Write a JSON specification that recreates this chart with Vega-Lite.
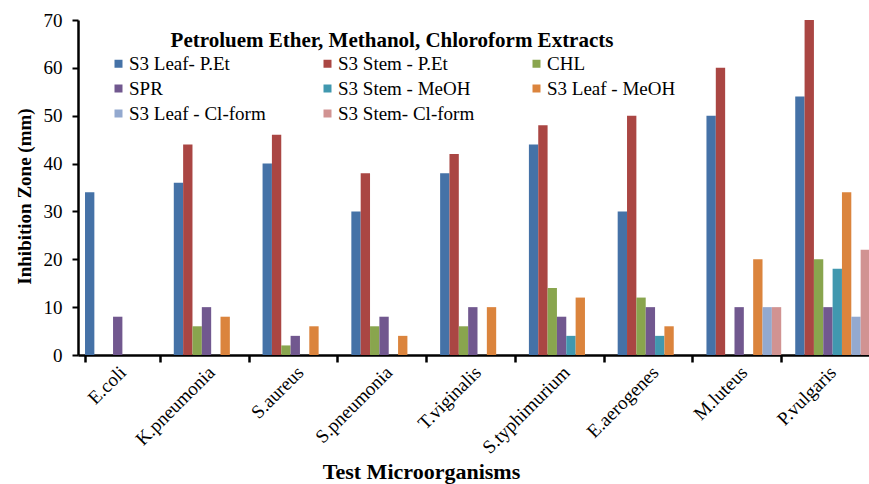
{
  "$schema": "https://vega.github.io/schema/vega-lite/v6.json",
  "width": 791,
  "height": 335,
  "autosize": {"type": "none"},
  "padding": {"left": 78, "top": 20, "right": 0, "bottom": 129},
  "background": "white",
  "config": {"view": {"stroke": null}, "font": "Liberation Serif"},
  "data": {
    "values": [
      {"organism": "E.coli", "extract": "S3 Leaf- P.Et", "zone": 34},
      {"organism": "E.coli", "extract": "SPR", "zone": 8},
      {"organism": "K.pneumonia", "extract": "S3 Leaf- P.Et", "zone": 36},
      {"organism": "K.pneumonia", "extract": "S3 Stem - P.Et", "zone": 44},
      {"organism": "K.pneumonia", "extract": "CHL", "zone": 6},
      {"organism": "K.pneumonia", "extract": "SPR", "zone": 10},
      {"organism": "K.pneumonia", "extract": "S3 Leaf - MeOH", "zone": 8},
      {"organism": "S.aureus", "extract": "S3 Leaf- P.Et", "zone": 40},
      {"organism": "S.aureus", "extract": "S3 Stem - P.Et", "zone": 46},
      {"organism": "S.aureus", "extract": "CHL", "zone": 2},
      {"organism": "S.aureus", "extract": "SPR", "zone": 4},
      {"organism": "S.aureus", "extract": "S3 Leaf - MeOH", "zone": 6},
      {"organism": "S.pneumonia", "extract": "S3 Leaf- P.Et", "zone": 30},
      {"organism": "S.pneumonia", "extract": "S3 Stem - P.Et", "zone": 38},
      {"organism": "S.pneumonia", "extract": "CHL", "zone": 6},
      {"organism": "S.pneumonia", "extract": "SPR", "zone": 8},
      {"organism": "S.pneumonia", "extract": "S3 Leaf - MeOH", "zone": 4},
      {"organism": "T.viginalis", "extract": "S3 Leaf- P.Et", "zone": 38},
      {"organism": "T.viginalis", "extract": "S3 Stem - P.Et", "zone": 42},
      {"organism": "T.viginalis", "extract": "CHL", "zone": 6},
      {"organism": "T.viginalis", "extract": "SPR", "zone": 10},
      {"organism": "T.viginalis", "extract": "S3 Leaf - MeOH", "zone": 10},
      {"organism": "S.typhimurium", "extract": "S3 Leaf- P.Et", "zone": 44},
      {"organism": "S.typhimurium", "extract": "S3 Stem - P.Et", "zone": 48},
      {"organism": "S.typhimurium", "extract": "CHL", "zone": 14},
      {"organism": "S.typhimurium", "extract": "SPR", "zone": 8},
      {"organism": "S.typhimurium", "extract": "S3 Stem - MeOH", "zone": 4},
      {"organism": "S.typhimurium", "extract": "S3 Leaf - MeOH", "zone": 12},
      {"organism": "E.aerogenes", "extract": "S3 Leaf- P.Et", "zone": 30},
      {"organism": "E.aerogenes", "extract": "S3 Stem - P.Et", "zone": 50},
      {"organism": "E.aerogenes", "extract": "CHL", "zone": 12},
      {"organism": "E.aerogenes", "extract": "SPR", "zone": 10},
      {"organism": "E.aerogenes", "extract": "S3 Stem - MeOH", "zone": 4},
      {"organism": "E.aerogenes", "extract": "S3 Leaf - MeOH", "zone": 6},
      {"organism": "M.luteus", "extract": "S3 Leaf- P.Et", "zone": 50},
      {"organism": "M.luteus", "extract": "S3 Stem - P.Et", "zone": 60},
      {"organism": "M.luteus", "extract": "SPR", "zone": 10},
      {"organism": "M.luteus", "extract": "S3 Leaf - MeOH", "zone": 20},
      {"organism": "M.luteus", "extract": "S3 Leaf - Cl-form", "zone": 10},
      {"organism": "M.luteus", "extract": "S3 Stem- Cl-form", "zone": 10},
      {"organism": "P.vulgaris", "extract": "S3 Leaf- P.Et", "zone": 54},
      {"organism": "P.vulgaris", "extract": "S3 Stem - P.Et", "zone": 70},
      {"organism": "P.vulgaris", "extract": "CHL", "zone": 20},
      {"organism": "P.vulgaris", "extract": "SPR", "zone": 10},
      {"organism": "P.vulgaris", "extract": "S3 Stem - MeOH", "zone": 18},
      {"organism": "P.vulgaris", "extract": "S3 Leaf - MeOH", "zone": 34},
      {"organism": "P.vulgaris", "extract": "S3 Leaf - Cl-form", "zone": 8},
      {"organism": "P.vulgaris", "extract": "S3 Stem- Cl-form", "zone": 22}
    ]
  },
  "mark": {"type": "bar"},
  "encoding": {
    "x": {
      "field": "organism",
      "type": "nominal",
      "sort": ["E.coli", "K.pneumonia", "S.aureus", "S.pneumonia", "T.viginalis", "S.typhimurium", "E.aerogenes", "M.luteus", "P.vulgaris"],
      "scale": {"range": [0, 799], "paddingInner": 0.158, "paddingOuter": 0.079},
      "title": "Test Microorganisms",
      "axis": {
        "labelAngle": -45,
        "labelAlign": "right",
        "labelBaseline": "middle",
        "labelFontSize": 19,
        "labelColor": "black",
        "labelPadding": 7,
        "domainColor": "black",
        "domainWidth": 2.5,
        "tickColor": "black",
        "tickWidth": 2.5,
        "tickSize": 7,
        "tickBand": "extent",
        "titleFontSize": 22,
        "titleFontWeight": "bold",
        "titleColor": "black",
        "titleX": 343,
        "titleY": 106,
        "titleAlign": "center",
        "titleBaseline": "top"
      }
    },
    "xOffset": {
      "field": "extract",
      "type": "nominal",
      "scale": {
        "domain": ["S3 Leaf- P.Et", "S3 Stem - P.Et", "CHL", "SPR", "S3 Stem - MeOH", "S3 Leaf - MeOH", "S3 Leaf - Cl-form", "S3 Stem- Cl-form"],
        "paddingInner": 0,
        "paddingOuter": 0
      }
    },
    "y": {
      "field": "zone",
      "type": "quantitative",
      "scale": {"domain": [0, 70]},
      "title": "Inhibition Zone (mm)",
      "axis": {
        "values": [0, 10, 20, 30, 40, 50, 60, 70],
        "grid": false,
        "labelFontSize": 19,
        "labelColor": "black",
        "labelPadding": 10,
        "domainColor": "black",
        "domainWidth": 2.5,
        "tickColor": "black",
        "tickWidth": 2,
        "tickSize": 6,
        "titleFontSize": 19,
        "titleFontWeight": "bold",
        "titleColor": "black",
        "titlePadding": 9,
        "titleY": 176
      }
    },
    "color": {
      "field": "extract",
      "type": "nominal",
      "scale": {
        "domain": ["S3 Leaf- P.Et", "S3 Stem - P.Et", "CHL", "SPR", "S3 Stem - MeOH", "S3 Leaf - MeOH", "S3 Leaf - Cl-form", "S3 Stem- Cl-form"],
        "range": ["#4572A7", "#AA4643", "#89A54E", "#71588F", "#4198AF", "#DB843D", "#93A9CF", "#D19392"]
      },
      "legend": {
        "orient": "none",
        "direction": "horizontal",
        "legendX": 31,
        "legendY": 10,
        "columns": 3,
        "gridAlign": "all",
        "columnPadding": 52,
        "rowPadding": 5,
        "padding": 0,
        "symbolType": "square",
        "symbolSize": 64,
        "symbolStrokeWidth": 0,
        "labelFontSize": 19,
        "labelOffset": 1,
        "labelColor": "black",
        "labelLimit": 300,
        "title": "Petroluem Ether, Methanol, Chloroform Extracts",
        "titleLimit": 700,
        "titleFontSize": 21,
        "titleFontWeight": "bold",
        "titleColor": "black",
        "titleAnchor": "middle",
        "titlePadding": 3
      }
    }
  }
}
